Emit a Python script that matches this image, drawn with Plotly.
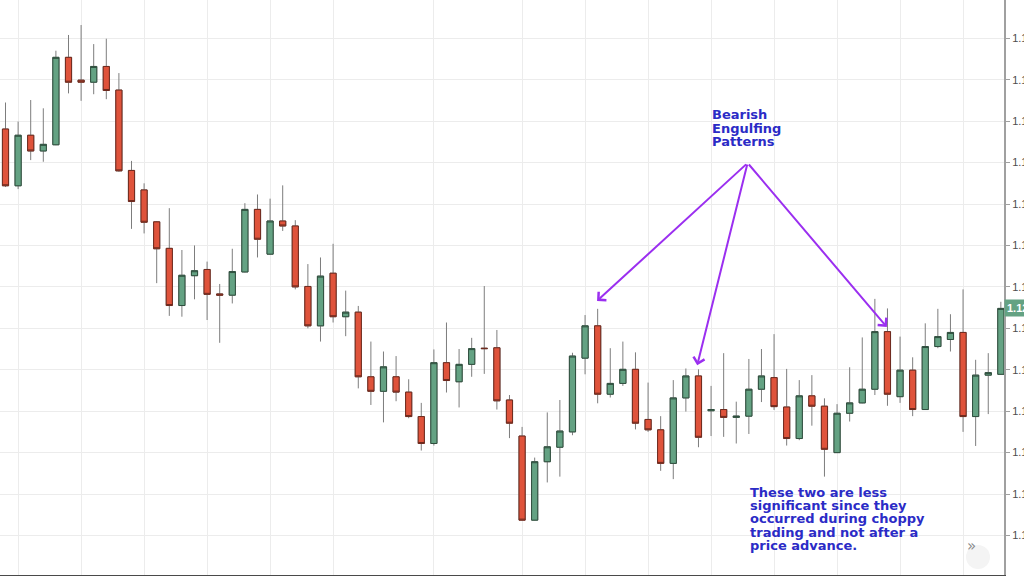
import plotly.graph_objects as go

# ---- data (price) ----
opens = [1.12781, 1.12644, 1.12766, 1.12728, 1.12743, 1.12954, 1.12899, 1.12894, 1.12932, 1.12875,
         1.12681, 1.12634, 1.12557, 1.12493, 1.12355, 1.12427, 1.12442, 1.12383, 1.12380, 1.12436,
         1.12587, 1.12479, 1.12559, 1.12547, 1.12401, 1.12306, 1.12433, 1.12328, 1.12339, 1.12183,
         1.12148, 1.12183, 1.12146, 1.12087, 1.12022, 1.12217, 1.12171, 1.12213, 1.12252, 1.12253,
         1.12127, 1.12040, 1.11837, 1.11978, 1.12013, 1.12050, 1.12228, 1.12306, 1.12141, 1.12167,
         1.12201, 1.12080, 1.12055, 1.11974, 1.12132, 1.12185, 1.12101, 1.12104, 1.12085, 1.12088,
         1.12153, 1.12181, 1.12110, 1.12034, 1.12137, 1.12112, 1.12000, 1.12095, 1.12120, 1.12153,
         1.12292, 1.12135, 1.12199, 1.12104, 1.12256, 1.12273, 1.12290, 1.12087, 1.12187, 1.12189]
highs = [1.12845, 1.12799, 1.12851, 1.12831, 1.12970, 1.13008, 1.13032, 1.12986, 1.12999, 1.12916,
         1.12704, 1.12650, 1.12559, 1.12590, 1.12489, 1.12500, 1.12461, 1.12407, 1.12492, 1.12602,
         1.12623, 1.12613, 1.12645, 1.12561, 1.12455, 1.12471, 1.12504, 1.12391, 1.12354, 1.12268,
         1.12244, 1.12233, 1.12177, 1.12120, 1.12249, 1.12314, 1.12250, 1.12277, 1.12402, 1.12296,
         1.12139, 1.12062, 1.11988, 1.12097, 1.12127, 1.12241, 1.12332, 1.12347, 1.12252, 1.12268,
         1.12242, 1.12169, 1.12088, 1.12175, 1.12203, 1.12201, 1.12161, 1.12240, 1.12123, 1.12226,
         1.12250, 1.12286, 1.12202, 1.12175, 1.12187, 1.12131, 1.12117, 1.12206, 1.12278, 1.12371,
         1.12348, 1.12280, 1.12230, 1.12312, 1.12347, 1.12334, 1.12394, 1.12224, 1.12240, 1.12364]
lows = [1.12641, 1.12636, 1.12706, 1.12702, 1.12742, 1.12867, 1.12849, 1.12865, 1.12853, 1.12678,
        1.12540, 1.12529, 1.12409, 1.12330, 1.12328, 1.12370, 1.12320, 1.12265, 1.12360, 1.12435,
        1.12471, 1.12478, 1.12535, 1.12394, 1.12300, 1.12268, 1.12314, 1.12281, 1.12155, 1.12115,
        1.12073, 1.12124, 1.12083, 1.12005, 1.12017, 1.12145, 1.12109, 1.12183, 1.12190, 1.12104,
        1.12035, 1.11836, 1.11836, 1.11928, 1.11942, 1.12042, 1.12189, 1.12119, 1.12133, 1.12161,
        1.12056, 1.12050, 1.11956, 1.11936, 1.12099, 1.12013, 1.12040, 1.12038, 1.12022, 1.12045,
        1.12122, 1.12103, 1.12017, 1.12030, 1.12065, 1.11942, 1.11999, 1.12075, 1.12119, 1.12139,
        1.12113, 1.12120, 1.12088, 1.12103, 1.12252, 1.12244, 1.12050, 1.12016, 1.12093, 1.12188]
closes = [1.12644, 1.12766, 1.12728, 1.12744, 1.12954, 1.12894, 1.12894, 1.12932, 1.12874, 1.12680,
          1.12606, 1.12556, 1.12492, 1.12355, 1.12428, 1.12439, 1.12382, 1.12380, 1.12437, 1.12587,
          1.12515, 1.12559, 1.12547, 1.12400, 1.12306, 1.12426, 1.12328, 1.12339, 1.12183, 1.12148,
          1.12207, 1.12146, 1.12087, 1.12022, 1.12217, 1.12174, 1.12213, 1.12251, 1.12251, 1.12125,
          1.12071, 1.11837, 1.11978, 1.12014, 1.12052, 1.12233, 1.12306, 1.12141, 1.12167, 1.12201,
          1.12071, 1.12055, 1.11974, 1.12132, 1.12185, 1.12037, 1.12104, 1.12085, 1.12088, 1.12153,
          1.12185, 1.12111, 1.12034, 1.12137, 1.12112, 1.12008, 1.12095, 1.12120, 1.12153, 1.12292,
          1.12141, 1.12199, 1.12104, 1.12256, 1.12280, 1.12290, 1.12087, 1.12187, 1.12193, 1.12348]
bars = list(range(len(opens)))

price_ticks = [1.118, 1.119, 1.120, 1.121, 1.122, 1.123, 1.124, 1.125, 1.126, 1.127, 1.128, 1.129, 1.130]
time_grid = [1, 6, 11, 16, 21, 26, 34, 41, 46, 51, 56, 61, 66, 71, 76]

# annotation anchors
apex = (58.9, 1.12699)
arrow_targets = [(46.95, 1.12366), (54.9, 1.12211), (69.95, 1.12303)]
title_lines = ["Bearish", "Engulfing", "Patterns"]
note_lines = ["These two are less", "significant since they", "occurred during choppy",
              "trading and not after a", "price advance."]

GREEN = "#64a283"
RED = "#df533b"
TEXT_BLUE = "#2b2bc6"
PURPLE = "#9b2ff0"

body_hi = [max(o, c) for o, c in zip(opens, closes)]
body_lo = [min(o, c) for o, c in zip(opens, closes)]

fig = go.Figure()
# wicks (grey)
fig.add_trace(go.Candlestick(
    x=bars, open=opens, high=highs, low=lows, close=closes,
    increasing=dict(line=dict(color="#7d7d7d", width=1), fillcolor=GREEN),
    decreasing=dict(line=dict(color="#7d7d7d", width=1), fillcolor=RED),
    whiskerwidth=0, showlegend=False, hoverinfo="skip"))
# bodies (dark outline)
fig.add_trace(go.Candlestick(
    x=bars, open=opens, high=body_hi, low=body_lo, close=closes,
    increasing=dict(line=dict(color="#2f4f3e", width=1), fillcolor=GREEN),
    decreasing=dict(line=dict(color="#6e2a1e", width=1), fillcolor=RED),
    whiskerwidth=0, showlegend=False))

annotations = []
for tx, ty in arrow_targets:
    annotations.append(dict(x=tx, y=ty, xref="x", yref="y", ax=apex[0], ay=apex[1],
                            axref="x", ayref="y", text="", showarrow=True,
                            arrowhead=4, arrowsize=1.1, arrowwidth=2, arrowcolor=PURPLE,
                            standoff=0, startstandoff=0))
for i, t in enumerate(title_lines):
    annotations.append(dict(x=710 / 1004, y=1 - (115 + 13.3 * i) / 575, xref="paper", yref="paper",
                            xanchor="left", yanchor="middle", showarrow=False, text="<b>%s</b>" % t,
                            font=dict(family="DejaVu Sans", size=13, color=TEXT_BLUE)))
for i, t in enumerate(note_lines):
    annotations.append(dict(x=748 / 1004, y=1 - (492.7 + 13.1 * i) / 575, xref="paper", yref="paper",
                            xanchor="left", yanchor="middle", showarrow=False, text="<b>%s</b>" % t,
                            font=dict(family="DejaVu Sans", size=13, color=TEXT_BLUE)))
# current price label
annotations.append(dict(x=1.0, y=closes[-1], xref="paper", yref="y", xanchor="left", yanchor="middle",
                        showarrow=False, text="<b>%.4f</b>" % closes[-1], bgcolor=GREEN,
                        font=dict(family="Liberation Sans", size=11, color="white"), borderpad=2))
# scroll button
annotations.append(dict(x=978 / 1004, y=1 - 557 / 575, xref="paper", yref="paper", showarrow=False,
                        text="»", font=dict(family="DejaVu Sans", size=15, color="#8a8a8a")))

fig.update_layout(
    width=1024, height=576,
    margin=dict(l=0, r=20, t=0, b=1),
    paper_bgcolor="white", plot_bgcolor="white",
    annotations=annotations,
    shapes=[dict(type="circle", xref="paper", yref="paper", x0=966 / 1004, x1=990 / 1004,
                 y0=1 - 569 / 575, y1=1 - 545 / 575, fillcolor="#f4f4f4", line=dict(width=0),
                 layer="below")],
    xaxis=dict(range=[-0.437, 79.25], rangeslider=dict(visible=False), tickvals=time_grid,
               showticklabels=False, showgrid=True, gridcolor="#ececec", gridwidth=1,
               zeroline=False, showline=True, linecolor="#4a4a4a", linewidth=2, mirror=False),
    yaxis=dict(side="right", range=[1.117046, 1.130924], tickvals=price_ticks, tickformat=".4f",
               showgrid=True, gridcolor="#ececec", gridwidth=1, zeroline=False,
               showline=True, linecolor="#a0a0a0", linewidth=2, ticks="outside", ticklen=4,
               tickcolor="#a0a0a0", tickfont=dict(family="Liberation Sans", size=11, color="#4d4d4d"),
               automargin=False),
    hovermode=False,
)

fig.write_html("out.html", config={"displayModeBar": False},
               post_script="document.body.style.margin='0';document.body.style.overflow='hidden';")
